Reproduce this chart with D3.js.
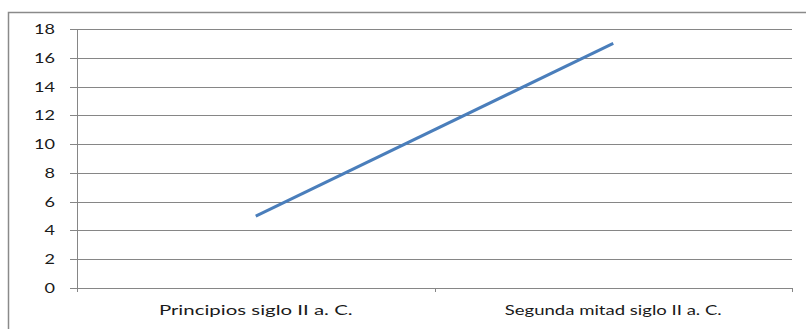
<!DOCTYPE html>
<html><head><meta charset="utf-8">
<script src="https://cdn.jsdelivr.net/npm/d3@7"></script>
<style>body{margin:0;background:#fff}svg{display:block}</style>
</head><body>
<script>
const categories = ["Principios siglo II a. C.", "Segunda mitad siglo II a. C."];
const values = [5, 17];
const yTicks = [0, 2, 4, 6, 8, 10, 12, 14, 16, 18];

const W = 806, H = 329;
const m = {left: 77, right: 14, top: 29, bottom: 41};
const svg = d3.select("body").append("svg").attr("width", W).attr("height", H);

svg.append("rect").attr("x", 8.5).attr("y", 12.5).attr("width", W).attr("height", H)
  .attr("fill", "none").attr("stroke", "#8a8a8a").attr("stroke-width", 1.5);

const x = d3.scaleBand().domain(categories).range([m.left, W - m.right]);
const y = d3.scaleLinear().domain([0, 18]).range([H - m.bottom, m.top]);

const g = svg.append("g");
g.selectAll("line.grid").data(yTicks).join("line")
  .attr("x1", m.left - 7).attr("x2", W - m.right)
  .attr("y1", d => Math.round(y(d)) + 0.5).attr("y2", d => Math.round(y(d)) + 0.5)
  .attr("stroke", "#868686").attr("stroke-width", 1);
g.append("line").attr("x1", m.left + 0.5).attr("x2", m.left + 0.5)
  .attr("y1", y(18)).attr("y2", y(0) + 4).attr("stroke", "#868686");
const bounds = [m.left, m.left + x.bandwidth(), W - m.right];
g.selectAll("line.xt").data(bounds).join("line")
  .attr("x1", d => Math.round(d) + 0.5).attr("x2", d => Math.round(d) + 0.5)
  .attr("y1", y(0)).attr("y2", y(0) + 4).attr("stroke", "#868686");
const font = "Lato, 'Open Sans', sans-serif";
g.selectAll("text.yl").data(yTicks).join("text")
  .attr("x", 55).attr("y", d => y(d)).attr("dy", "0.36em")
  .attr("text-anchor", "end").attr("font-family", font)
  .attr("font-size", 14).attr("fill", "#1a1a1a")
  .attr("textLength", d => String(d).length * 10.5).attr("lengthAdjust", "spacingAndGlyphs")
  .text(d => d);
g.selectAll("text.xl").data(categories).join("text")
  .attr("x", d => x(d) + x.bandwidth() / 2).attr("y", H - m.bottom + 27)
  .attr("text-anchor", "middle").attr("font-family", font)
  .attr("font-size", 14).attr("fill", "#1a1a1a")
  .attr("textLength", d => d.length * 7.75).attr("lengthAdjust", "spacingAndGlyphs")
  .text(d => d);
const line = d3.line().x((d, i) => x(categories[i]) + x.bandwidth() / 2).y(d => y(d));
g.append("path").datum(values).attr("d", line).attr("fill", "none")
  .attr("stroke", "#4a7ebb").attr("stroke-width", 3).attr("stroke-linecap", "butt");
</script>
</body></html>
